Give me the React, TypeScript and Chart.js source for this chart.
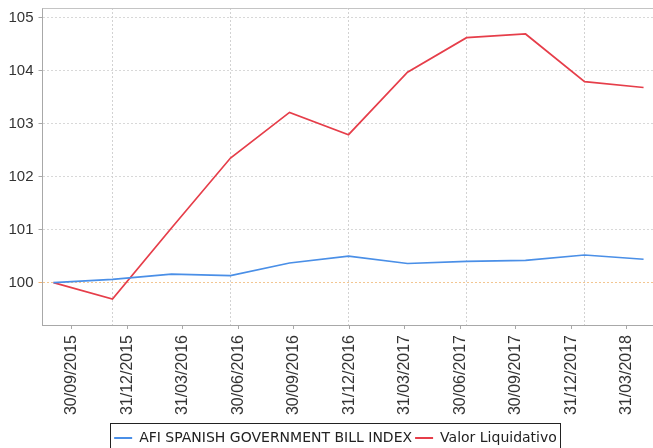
import React, { useEffect, useRef } from "react";
import { Chart, registerables } from "chart.js";

Chart.register(...registerables);

const dates = [
  "30/09/2015",
  "31/12/2015",
  "31/03/2016",
  "30/06/2016",
  "30/09/2016",
  "31/12/2016",
  "31/03/2017",
  "30/06/2017",
  "30/09/2017",
  "31/12/2017",
  "31/03/2018",
];
const afiIndex = [100, 100.06, 100.16, 100.13, 100.37, 100.5, 100.36, 100.4, 100.42, 100.52, 100.44];
const valorLiquidativo = [100, 99.69, 101.03, 102.35, 103.21, 102.79, 103.97, 104.62, 104.69, 103.79, 103.68];
const yTicks = [100, 101, 102, 103, 104, 105];

const BLUE = "#4a8fe7";
const RED = "#e63e4a";
const FONT = "'Liberation Sans', Arial, sans-serif";
const LEGEND_FONT = "'DejaVu Sans', sans-serif";

const framePlugin = {
  id: "frame",
  afterLayout(chart: any) {
    const lg = chart.legend;
    if (lg) {
      lg.top += 7;
      lg.bottom += 7;
      lg.left += 9;
      lg.right += 9;
    }
  },
  afterDraw(chart: any) {
    const { ctx, chartArea } = chart;
    ctx.save();
    ctx.strokeStyle = "#c4c4c4";
    ctx.lineWidth = 1;
    ctx.beginPath();
    ctx.moveTo(chartArea.left, Math.round(chartArea.top) + 0.5);
    ctx.lineTo(chartArea.right, Math.round(chartArea.top) + 0.5);
    ctx.stroke();
    const hb = chart.legend && chart.legend.legendHitBoxes;
    if (hb && hb.length) {
      const first = hb[0];
      const last = hb[hb.length - 1];
      const left = Math.round(first.left - 4) + 0.5;
      const top = Math.round(first.top - 8) + 0.5;
      const right = Math.round(last.left + last.width + 3) + 0.5;
      ctx.strokeStyle = "#222";
      ctx.strokeRect(left, top, right - left, chart.height - top + 10);
    }
    ctx.restore();
  },
};

export default function App() {
  const ref = useRef<HTMLCanvasElement | null>(null);

  useEffect(() => {
    document.body.style.margin = "0";
    const canvas = ref.current;
    if (!canvas) return;
    const chart = new Chart(canvas, {
      type: "line",
      data: {
        datasets: [
          {
            label: "AFI SPANISH GOVERNMENT BILL INDEX",
            data: afiIndex.map((v, i) => ({ x: i, y: v })),
            borderColor: BLUE,
            backgroundColor: BLUE,
            borderWidth: 1.7,
            pointRadius: 0,
            tension: 0,
            xAxisID: "x",
            yAxisID: "y",
          },
          {
            label: "Valor Liquidativo",
            data: valorLiquidativo.map((v, i) => ({ x: i, y: v })),
            borderColor: RED,
            backgroundColor: RED,
            borderWidth: 1.7,
            pointRadius: 0,
            tension: 0,
            xAxisID: "x",
            yAxisID: "y",
          },
        ],
      },
      options: {
        responsive: false,
        animation: false,
        layout: { padding: { top: 8, right: 0, left: 0, bottom: 0 } },
        plugins: {
          tooltip: { enabled: false },
          legend: {
            position: "bottom",
            labels: {
              boxWidth: 18,
              boxHeight: 2,
              padding: 3,
              color: "#222",
              font: { family: LEGEND_FONT, size: 14 },
              generateLabels: (c: any) =>
                (Chart.defaults.plugins.legend.labels as any)
                  .generateLabels(c)
                  .map((l: any) => ({ ...l, lineWidth: 0 })),
            },
          },
        },
        scales: {
          y: {
            type: "linear",
            position: "left",
            min: 99.2,
            max: 105.18,
            afterBuildTicks: (s: any) => {
              s.ticks = yTicks.map((v) => ({ value: v }));
            },
            afterFit: (s: any) => {
              s.width = 42.5;
              s.paddingTop = 0;
              s.paddingBottom = 0;
            },
            ticks: {
              color: "#333",
              padding: 5,
              font: { family: FONT, size: 15 },
              callback: (v: any) => String(v),
            },
            grid: {
              color: (c: any) => (c.tick && c.tick.value === 100 ? "#f3c690" : "#d8d8d8"),
              tickColor: (c: any) => (c.tick && c.tick.value === 100 ? "#f0b070" : "#a8a8a8"),
              tickLength: 4,
              lineWidth: 1,
            },
            border: { color: "#a8a8a8", dash: [2, 2] },
          },
          x: {
            type: "linear",
            position: "bottom",
            weight: 0,
            min: -0.186,
            max: 10.16,
            afterBuildTicks: (s: any) => {
              s.ticks = dates.map((_, i) => ({ value: i }));
            },
            afterFit: (s: any) => {
              s.height = 0;
              s.paddingLeft = 0;
              s.paddingRight = 0;
            },
            ticks: { display: false },
            grid: {
              color: (c: any) => (c.tick && c.tick.value % 2 === 1 ? "#d2d2d2" : "rgba(0,0,0,0)"),
              drawTicks: false,
            },
            border: { display: false, dash: [2, 2] },
          },
          xl: {
            type: "linear",
            position: "bottom",
            weight: 1,
            min: -0.526,
            max: 10.47,
            afterBuildTicks: (s: any) => {
              s.ticks = dates.map((_, i) => ({ value: i }));
            },
            afterFit: (s: any) => {
              s.height = 96;
              s.paddingLeft = 0;
              s.paddingRight = 0;
            },
            ticks: {
              autoSkip: false,
              maxRotation: 90,
              minRotation: 90,
              padding: 6,
              color: "#333",
              font: { family: FONT, size: 16 },
              callback: (v: any) => dates[v as number],
            },
            grid: { drawOnChartArea: false, tickLength: 4, tickColor: "#a8a8a8" },
            border: { color: "#a8a8a8" },
          },
        },
      } as any,
      plugins: [framePlugin],
    });
    return () => chart.destroy();
  }, []);

  return (
    <div style={{ width: 653, height: 448, background: "#fff" }}>
      <canvas ref={ref} width={653} height={448} style={{ display: "block" }} />
    </div>
  );
}
